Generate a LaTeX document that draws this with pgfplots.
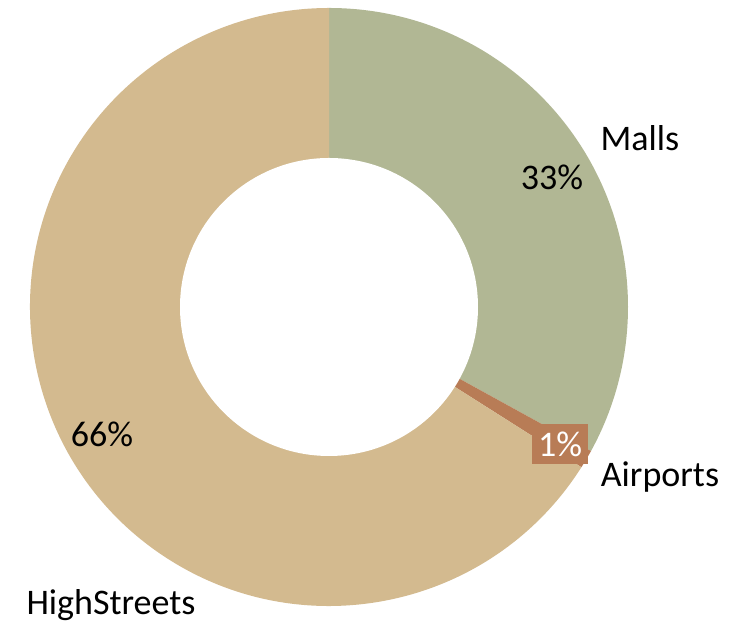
\documentclass[border=0pt]{standalone}
\usepackage{pgfplots}
\usepackage{pgfplotstable}
\pgfplotsset{compat=1.18}
\usepackage{fontspec}
\setmainfont{Carlito}
\definecolor{mallsc}{HTML}{B1B794}
\definecolor{airc}{HTML}{B87C56}
\definecolor{highc}{HTML}{D3BA8F}
\pgfplotstableread{
name value
Malls 33
Airports 1
HighStreets 66
}\piedata
\begin{document}
\begin{tikzpicture}
\pgfplotstablegetelem{0}{value}\of\piedata \let\va\pgfplotsretval
\pgfplotstablegetelem{1}{value}\of\piedata \let\vb\pgfplotsretval
\pgfplotstablegetelem{2}{value}\of\piedata \let\vc\pgfplotsretval
\pgfmathsetmacro\tot{\va+\vb+\vc}
\pgfmathsetmacro\aA{90}
\pgfmathsetmacro\aB{90-360*\va/\tot}
\pgfmathsetmacro\aC{\aB-360*\vb/\tot}
\pgfmathsetmacro\aD{-270}
\begin{axis}[
  hide axis, scale only axis,
  x=0.5pt, y=0.5pt,
  xmin=0, xmax=751, ymin=0, ymax=625,
  clip=false,
]
\coordinate (bl) at (axis cs:0,0);
\coordinate (tr) at (axis cs:751,625);
\fill[mallsc] (axis cs:329,318) -- ++(\aA:149.5pt) arc[start angle=\aA, end angle=\aB, radius=149.5pt] -- cycle;
\fill[airc] (axis cs:329,318) -- ++(\aB:149.5pt) arc[start angle=\aB, end angle=\aC, radius=149.5pt] -- cycle;
\fill[highc] (axis cs:329,318) -- ++(\aC:149.5pt) arc[start angle=\aC, end angle=\aD, radius=149.5pt] -- cycle;
\fill[white] (axis cs:329,318) circle[radius=74.5pt];
\begin{scope}[every node/.style={font=\fontsize{18}{21.6}\selectfont, inner sep=0pt}]
\node at (axis cs:640,487) {Malls};
\node at (axis cs:552,448) {33\%};
\node[fill=airc, text=white, minimum width=28pt, minimum height=20pt] at (axis cs:560,181) {1\%};
\node at (axis cs:660,148) {Airports};
\node at (axis cs:102,191) {66\%};
\node at (axis cs:111,20) {HighStreets};
\end{scope}
\end{axis}
\pgfresetboundingbox
\path[use as bounding box] (bl) rectangle (tr);
\end{tikzpicture}
\end{document}
